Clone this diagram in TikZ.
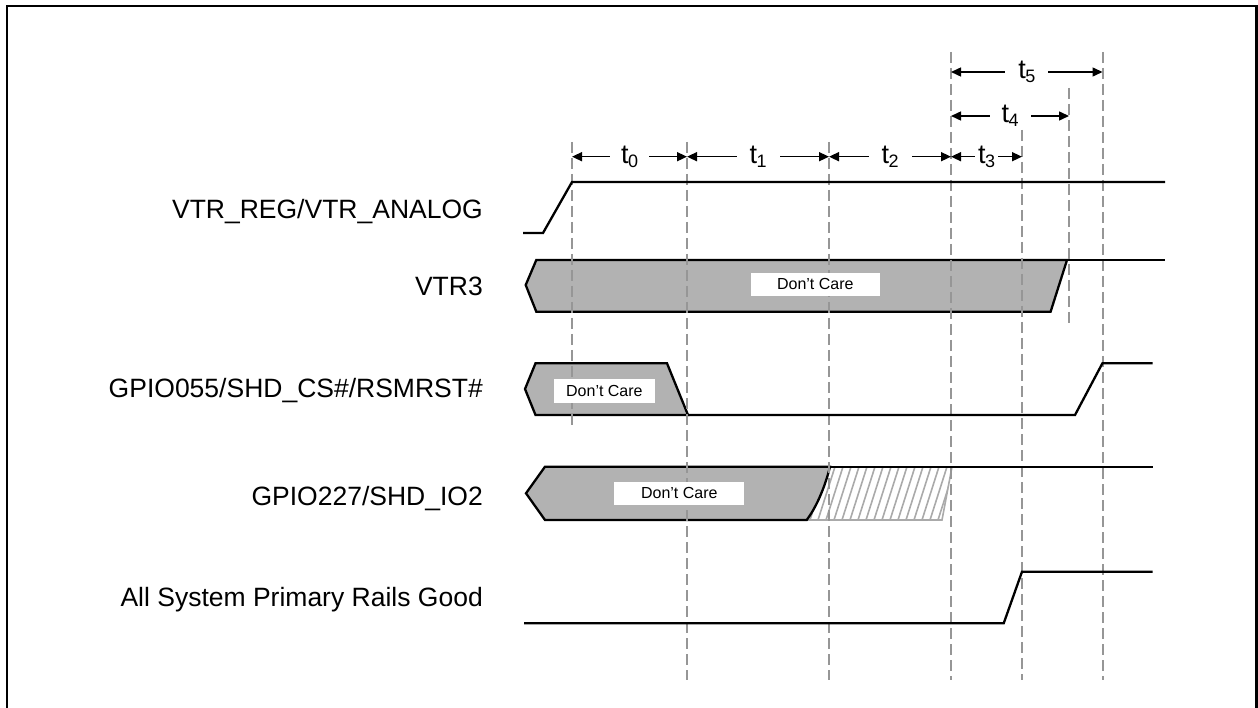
\documentclass[tikz,border=0pt]{standalone}
\usepackage{fontspec}
\setmainfont{Liberation Sans}
\usetikzlibrary{arrows.meta}
\definecolor{dcgray}{RGB}{178,178,178}
\definecolor{dashgray}{RGB}{150,150,150}
\definecolor{hatchgray}{RGB}{170,170,170}
\tikzset{
  sig/.style={line width=2.3pt, black},
  guide/.style={line width=2pt, dashgray, dash pattern=on 11pt off 5pt},
  dim/.style={line width=1.5pt, {Triangle[length=10pt,width=9pt]}-{Triangle[length=10pt,width=9pt]}},
  dimlabel/.style={fill=white, inner ysep=1pt, font=\fontsize{27}{27}\selectfont},
  siglabel/.style={anchor=base east, font=\fontsize{26.5}{30}\selectfont, inner sep=0pt},
  dcshape/.style={sig, fill=dcgray},
  dcbox/.style={fill=white, inner sep=0pt, font=\fontsize{16}{16}\selectfont},
  hatchline/.style={hatchgray, line width=1.6pt},
}
\newcommand{\tsub}[1]{t\kern-0.5pt\raisebox{-3.5pt}{\fontsize{18}{18}\selectfont #1}}
\begin{document}
\begin{tikzpicture}[x=1pt, y=-1pt]
\useasboundingbox (0,0) rectangle (1258,708);
% frame
\draw[line width=2.2pt] (7,715) -- (7,6) -- (1256.5,6) -- (1256.5,715);

% guide coordinates
\coordinate (x0) at (572,0);
\coordinate (x1) at (687,0);
\coordinate (x2) at (829,0);
\coordinate (x3) at (951,0);
\coordinate (x4) at (1022,0);
\coordinate (x5) at (1069,0);
\coordinate (x6) at (1102.5,0);
\coordinate (rowA) at (0,156.7);
\coordinate (rowB) at (0,116);
\coordinate (rowC) at (0,72);

% Don't care fills and hatch (behind guides)
\draw[dcshape] (525.7,285) -- (536.3,260) -- (1067,260) -- (1050.6,311.7) -- (536.3,311.7) -- cycle;
\draw[dcshape] (525,389) -- (535.5,363.3) -- (667,363.3) -- (688,415) -- (535.5,415) -- cycle;
\begin{scope}
\clip (830,466.7) -- (952,466.7) -- (942,520) -- (806.7,520) .. controls (818,505) and (826,483) .. (830,466.7) -- cycle;
\foreach \x in {770,778,...,960} \draw[hatchline] (\x,520) -- (\x+17,466.7);
\end{scope}
\draw[hatchline] (806.7,520) -- (942,520) -- (952,466.7);
\draw[dcshape] (526,493.3) -- (545,466.7) -- (830,466.7) .. controls (826,483) and (818,505) .. (806.7,520) -- (545,520) -- cycle;

% dashed guides
\draw[guide] (x0 |- 0,142) -- (x0 |- 0,426);
\draw[guide] (x1 |- 0,142) -- (x1 |- 0,680);
\draw[guide] (x2 |- 0,142) -- (x2 |- 0,680);
\draw[guide] (x3 |- 0,52) -- (x3 |- 0,680);
\draw[guide] (x4 |- 0,130) -- (x4 |- 0,680);
\draw[guide] (x5 |- 0,88) -- (x5 |- 0,326);
\draw[guide] (x6 |- 0,52) -- (x6 |- 0,680);

% signals
\draw[sig] (523,233) -- (543,233) -- (572,182) -- (1165,182);
\draw[sig] (1067,260) -- (1165,260);
\draw[sig] (688,415) -- (1075,415) -- (1102.4,363.3) -- (1152.6,363.3);
\draw[sig] (830,466.7) -- (1153,466.7);
\draw[sig] (524,623.3) -- (1003.7,623.3) -- (1022,571.7) -- (1152.6,571.7);

% Don't care boxes
\node[dcbox, minimum width=129pt, minimum height=23pt] (dc1) at (815.3,284.4) {Don’t Care};
\node[dcbox, minimum width=101pt, minimum height=23.5pt] (dc2) at (604.4,390.9) {Don’t Care};
\node[dcbox, minimum width=130pt, minimum height=23.3pt] (dc3) at (679.3,493.3) {Don’t Care};

% timing dimensions
\draw[dim] (x0 |- rowA) -- (x1 |- rowA) node[midway, dimlabel, inner xsep=11pt] (t0) {\tsub{0}};
\draw[dim] (x1 |- rowA) -- (x2 |- rowA) node[midway, dimlabel, inner xsep=13pt] (t1) {\tsub{1}};
\draw[dim] (x2 |- rowA) -- (x3 |- rowA) node[midway, dimlabel, inner xsep=13pt] (t2) {\tsub{2}};
\draw[dim] (x3 |- rowA) -- (x4 |- rowA) node[midway, dimlabel, inner xsep=3pt] (t3) {\tsub{3}};
\draw[dim] (x3 |- rowB) -- (x5 |- rowB) node[midway, dimlabel, inner xsep=12pt] (t4) {\tsub{4}};
\draw[dim] (x3 |- rowC) -- (x6 |- rowC) node[midway, dimlabel, inner xsep=13pt] (t5) {\tsub{5}};

% signal labels
\node[siglabel] (l1) at (483,219) {VTR\_REG/VTR\_ANALOG};
\node[siglabel] (l2) at (483,296) {VTR3};
\node[siglabel] (l3) at (483,398) {GPIO055/SHD\_CS\#/RSMRST\#};
\node[siglabel] (l4) at (483,505) {GPIO227/SHD\_IO2};
\node[siglabel] (l5) at (483,606) {All System Primary Rails Good};
\end{tikzpicture}
\end{document}
